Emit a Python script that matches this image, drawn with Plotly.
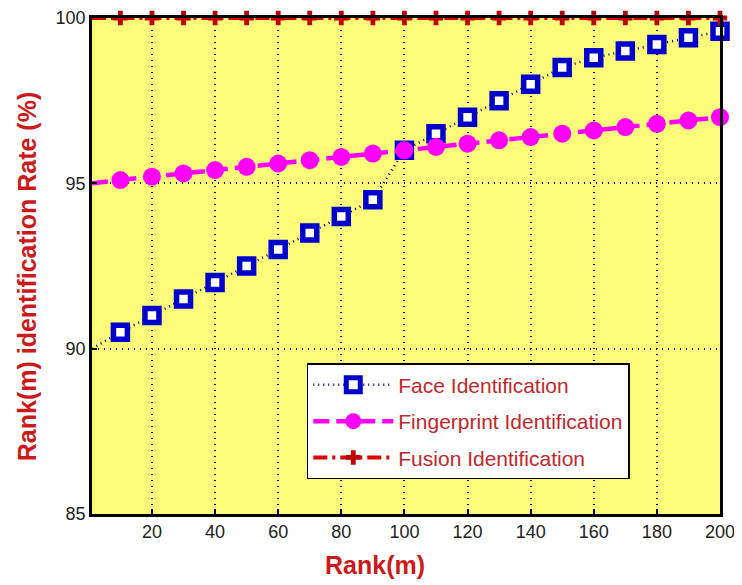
import plotly.graph_objects as go

rank = [10, 20, 30, 40, 50, 60, 70, 80, 90, 100, 110, 120, 130, 140, 150, 160, 170, 180, 190, 200]
face = [90.5, 91.0, 91.5, 92.0, 92.5, 93.0, 93.5, 94.0, 94.5, 96.0, 96.5, 97.0, 97.5, 98.0, 98.5, 98.8, 99.0, 99.2, 99.4, 99.6]
finger = [95.1, 95.2, 95.3, 95.4, 95.5, 95.6, 95.7, 95.8, 95.9, 96.0, 96.1, 96.2, 96.3, 96.4, 96.5, 96.6, 96.7, 96.8, 96.9, 97.0]
fusion = [100.0] * 20
# line start at rank 1 (no marker there)
rank_start = 1
face_start = 90.0
finger_start = 95.0
fusion_start = 100.0
xticks = [20, 40, 60, 80, 100, 120, 140, 160, 180, 200]
yticks = [85, 90, 95, 100]

series = [
    ("Face Identification", face, face_start,
     dict(color="#000080", width=2.5, dash="1px,4px"),
     dict(symbol="square", size=14, color="white", line=dict(color="#0000cc", width=5.5))),
    ("Fingerprint Identification", finger, finger_start,
     dict(color="#ff00ff", width=4.5, dash="16px,7px"),
     dict(symbol="circle", size=18, color="#ff00ff")),
    ("Fusion Identification", fusion, fusion_start,
     dict(color="#dd0000", width=4, dash="14px,5px,3px,5px"),
     dict(symbol="cross", size=12, color="#c00000")),
]

fig = go.Figure()
for name, vals, start, line, marker in series:
    fig.add_trace(go.Scatter(
        x=[rank_start, rank[0]], y=[start, vals[0]], mode="lines", line=line,
        showlegend=False, hoverinfo="skip", legendgroup=name, cliponaxis=False))
    fig.add_trace(go.Scatter(
        x=rank, y=vals, name=name, mode="lines+markers", line=line, marker=marker,
        legendgroup=name, cliponaxis=False))

grid = dict(showgrid=True, gridcolor="black", griddash="1px,5px", gridwidth=1.5, zeroline=False,
            ticks="inside", ticklen=5, tickcolor="black", tickwidth=1.5,
            showline=True, linecolor="black", linewidth=2.5, mirror=True)

title_font = dict(family="Liberation Sans, Arial", size=25, color="#cc1a1a")

fig.update_layout(
    width=742, height=585,
    margin=dict(l=84, r=30, t=10, b=79),
    paper_bgcolor="white", plot_bgcolor="#fcfc7a",
    font=dict(family="Liberation Sans, Arial", size=18, color="#222222"),
    showlegend=True,
    legend=dict(x=0.342, y=0.304, xanchor="left", yanchor="top",
                bgcolor="white", bordercolor="black", borderwidth=1.5,
                font=dict(size=21, color="#c0282c"), itemwidth=80,
                traceorder="grouped", tracegroupgap=6),
    annotations=[
        dict(text="<b>Rank(m)</b>", xref="paper", yref="paper", x=0.451, y=-0.103,
             xanchor="center", yanchor="middle", showarrow=False, font=title_font),
        dict(text="<b>Rank(m) identification Rate (%)</b>", xref="paper", yref="paper",
             x=-0.103, y=0.478, xanchor="center", yanchor="middle", textangle=-90,
             showarrow=False, font=title_font),
    ],
)
fig.update_xaxes(range=[1, 200], tickvals=xticks, automargin=False, tickfont=dict(size=18), **grid)
fig.update_yaxes(range=[85, 100], tickvals=yticks, automargin=False, tickfont=dict(size=18), **grid)

fig.write_html("out.html")
